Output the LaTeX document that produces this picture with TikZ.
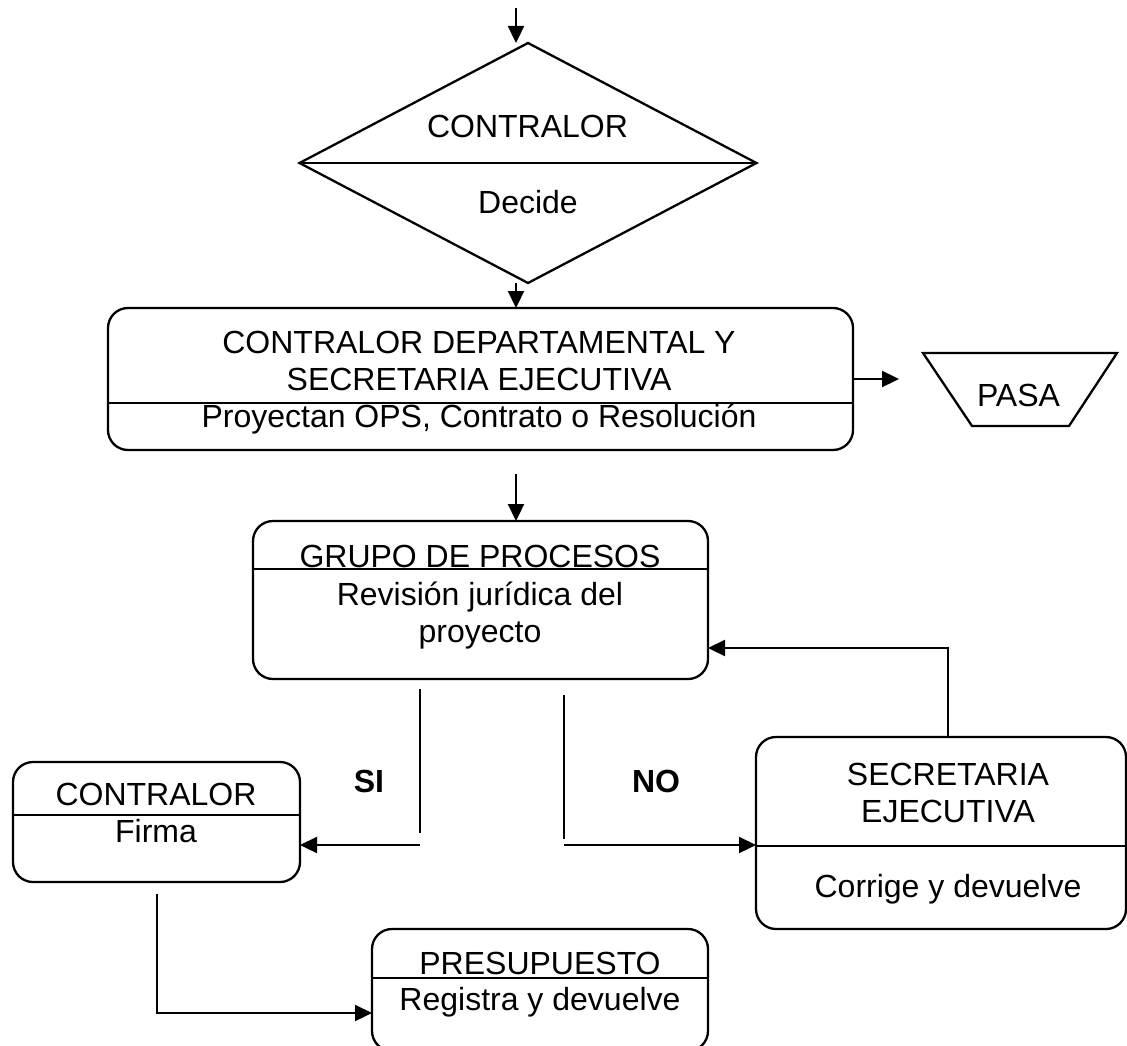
\documentclass[tikz,border=0pt]{standalone}
\usepackage{fontspec}
\setmainfont{Liberation Sans}
\usetikzlibrary{arrows.meta,shapes.geometric}
\begin{document}
\begin{tikzpicture}[x=1pt,y=-1pt,
  line width=2.3pt,
  every node/.style={inner sep=0pt, outer sep=0pt},
  lbl/.style={anchor=base, font=\fontsize{32}{36}\selectfont},
  yesno/.style={anchor=base, font=\fontsize{32}{36}\selectfont\bfseries},
  procbox/.style={draw, rounded corners=20pt},
  flow/.style={-{Triangle[length=17pt,width=16pt]}}]
\useasboundingbox (0,0) rectangle (1127,1046);

% decision diamond
\node[draw, diamond, minimum width=457pt, minimum height=240pt] (dec) at (528,163) {};
\draw (dec.west) -- (dec.east);
\node[lbl] (dectitle) at (527.5,138) {CONTRALOR};
\node[lbl] (dectext) at (528,213) {Decide};

% department controller box
\node[procbox, minimum width=745pt, minimum height=142pt] (cdep) at (480.5,379) {};
\draw (108,403) -- (853,403);
\node[lbl] (cdep1) at (479,353) {CONTRALOR DEPARTAMENTAL Y};
\node[lbl] (cdep2) at (479,390) {SECRETARIA EJECUTIVA};
\node[lbl] (cdep3) at (479,427) {Proyectan OPS, Contrato o Resolución};

% off-page connector
\draw (923,353) -- (1117,353) -- (1069,426) -- (972,426) -- cycle;
\node[lbl] (pasa) at (1018.5,406) {PASA};

% process group box
\node[procbox, minimum width=455pt, minimum height=158pt] (grp) at (480.5,600) {};
\draw (253,569) -- (708,569);
\node[lbl] (grp1) at (480,567) {GRUPO DE PROCESOS};
\node[lbl] (grp2) at (480,605) {Revisión jurídica del};
\node[lbl] (grp3) at (480,642) {proyecto};

% controller signs
\node[procbox, minimum width=287pt, minimum height=120pt] (ctl) at (156.5,822) {};
\draw (13,815) -- (300,815);
\node[lbl] (ctl1) at (156,805) {CONTRALOR};
\node[lbl] (ctl2) at (156,842) {Firma};

% executive secretary
\node[procbox, minimum width=370pt, minimum height=192pt] (sec) at (941,833) {};
\draw (756,846) -- (1126,846);
\node[lbl] (sec1) at (948,785) {SECRETARIA};
\node[lbl] (sec2) at (948,822) {EJECUTIVA};
\node[lbl] (sec3) at (948,897) {Corrige y devuelve};

% budget
\node[procbox, minimum width=336pt, minimum height=122pt] (pre) at (540,990) {};
\draw (372,978) -- (708,978);
\node[lbl] (pre1) at (540,974) {PRESUPUESTO};
\node[lbl] (pre2) at (540,1010) {Registra y devuelve};

% branch labels
\node[yesno] (si) at (369,792) {SI};
\node[yesno] (no) at (656,792) {NO};

% connector end points
\coordinate (inTop) at (516,8);
\coordinate (decIn) at (516,43);
\coordinate (decOut) at (516,283);
\coordinate (cdepIn) at (516,308);
\coordinate (cdepOut) at (516,474);
\coordinate (grpIn) at (516,521);
\coordinate (pasaIn) at (899,379);
\coordinate (siTop) at (420,689);
\coordinate (siBot) at (420,833);
\coordinate (siFrom) at (420,845);
\coordinate (ctlIn) at (300,845);
\coordinate (noTop) at (564,695);
\coordinate (noBot) at (564,839);
\coordinate (noFrom) at (564,845);
\coordinate (secIn) at (756,845);
\coordinate (secUp) at (948,737);
\coordinate (loopCorner) at (948,648);
\coordinate (grpBack) at (708,648);
\coordinate (ctlDown) at (157,894);
\coordinate (ctlCorner) at (157,1013);
\coordinate (preIn) at (372,1013);

% connectors
\draw[flow] (inTop) -- (decIn);
\draw[flow] (decOut) -- (cdepIn);
\draw[flow] (cdep.east) -- (pasaIn);
\draw[flow] (cdepOut) -- (grpIn);
\draw (siTop) -- (siBot);
\draw[flow] (siFrom) -- (ctlIn);
\draw (noTop) -- (noBot);
\draw[flow] (noFrom) -- (secIn);
\draw[flow] (secUp) -- (loopCorner) -- (grpBack);
\draw[flow] (ctlDown) -- (ctlCorner) -- (preIn);
\end{tikzpicture}
\end{document}
